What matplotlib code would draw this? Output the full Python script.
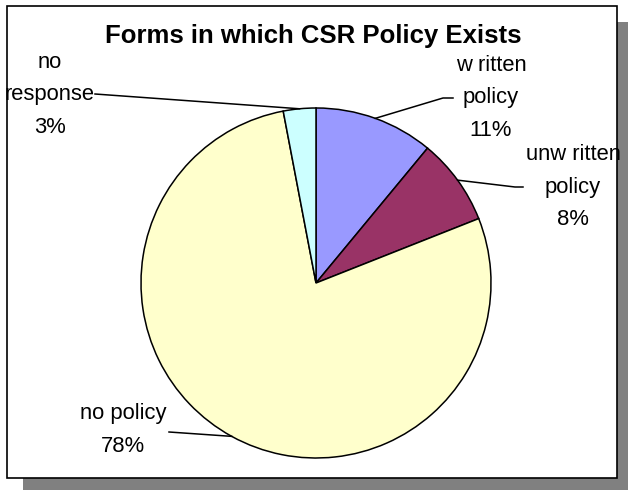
import numpy as np
import matplotlib.pyplot as plt
from matplotlib.patches import Rectangle

labels = ["w ritten\npolicy", "unw ritten\npolicy", "no policy", "no\nresponse"]
values = [11, 8, 78, 3]
colors = ["#9999FF", "#993366", "#FFFFCC", "#CCFFFF"]

W, H = 628, 490


def py(y):
    # pixel row (from top) -> data y
    return H - y


fig = plt.figure(figsize=(6.28, 4.90), dpi=100)
ax = fig.add_axes([0, 0, 1, 1])

cx, cy, r = 316, 283, 175
wedges, _ = ax.pie(values, colors=colors, startangle=90, counterclock=False,
                   center=(cx, py(cy)), radius=r,
                   wedgeprops=dict(edgecolor="black", linewidth=1.1))
for w in wedges:
    w.set_zorder(3)

ax.set_xlim(0, W)
ax.set_ylim(0, H)
ax.set_aspect("auto")
ax.axis("off")

# shadow + chart frame
ax.add_patch(Rectangle((23, py(490)), 605, 490 - 22, facecolor="#808080",
                       edgecolor="none", zorder=0))
ax.add_patch(Rectangle((7, py(478)), 610, 478 - 6, facecolor="white",
                       edgecolor="black", linewidth=1.2, zorder=1))

ax.text(313, py(43), "Forms in which CSR Policy Exists", ha="center",
        va="baseline", fontsize=18.5, fontweight="bold",
        family="Liberation Sans", zorder=5)

# label text positions (center of block) and leader line path (text side)
label_pos = [(491, 98), (573, 187), (123, 430), (50, 95)]
leader_pts = [[(453, 98), (443, 98)],
              [(523, 187), (515, 187)],
              [(169, 432)],
              [(95, 94)]]

for w, lab, v, (tx, ty), pts in zip(wedges, labels, values, label_pos, leader_pts):
    ax.text(tx, py(ty), f"{lab}\n{v}%", ha="center", va="center",
            fontsize=15.8, family="Liberation Sans", linespacing=1.7, zorder=5)
    mid = np.deg2rad((w.theta1 + w.theta2) / 2)
    ex, ey = cx + r * np.cos(mid), py(cy) + r * np.sin(mid)
    xs = [p[0] for p in pts] + [ex]
    ys = [py(p[1]) for p in pts] + [ey]
    ax.plot(xs, ys, color="black", linewidth=1.1, zorder=4)

fig.savefig("out.png", dpi=100)
